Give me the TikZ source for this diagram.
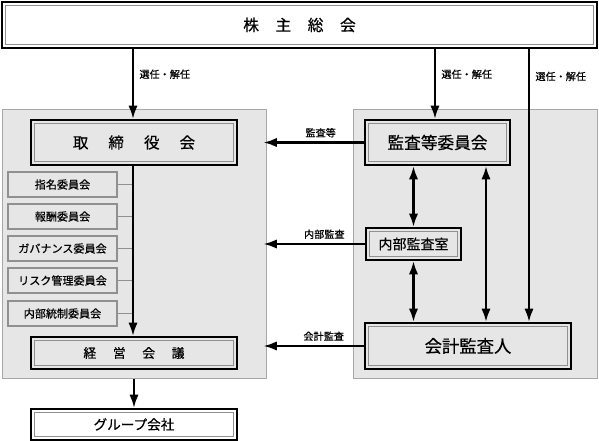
\documentclass[tikz,border=0pt]{standalone}
\usepackage{fontspec}
\setmainfont{Noto Sans CJK JP}[FakeBold=0.5]
\usetikzlibrary{arrows.meta,calc}
\definecolor{panel}{HTML}{E6E6E6}
\definecolor{panelline}{HTML}{A8A8A8}
\definecolor{innerline}{HTML}{909090}
\tikzset{
  px/.style={x=0.75pt,y=-0.75pt},
  panelbox/.style={draw=panelline,line width=0.75pt,fill=panel,inner sep=0pt},
  dbox/.style={draw=black,line width=1.7pt,fill=panel,inner sep=0pt,
    path picture={\draw[innerline,line width=0.75pt]
      ([shift={(2.4pt,2.4pt)}]path picture bounding box.south west) rectangle
      ([shift={(-2.4pt,-2.4pt)}]path picture bounding box.north east);}},
  wbox/.style={dbox,fill=white},
  cbox/.style={draw=innerline,line width=1pt,fill=panel,inner sep=0pt,
    minimum width=109*0.75pt,minimum height=25*0.75pt,font=\fontsize{8.3}{10}\selectfont},
  conn/.style={line width=1.65pt,-{Latex[length=10pt,width=7pt]}},
  dconn/.style={line width=1.65pt,{Latex[length=10pt,width=7pt]}-{Latex[length=10pt,width=7pt]}},
  thin/.style={draw=innerline,line width=0.75pt},
  lbl/.style={font=\fontsize{7.6}{9}\selectfont,inner sep=1pt},
}
\begin{document}
\begin{tikzpicture}[px]
\useasboundingbox (0,0) rectangle (599,441);
% panels
\node[panelbox,minimum width=264*0.75pt,minimum height=268*0.75pt] (lbox) at (134,244) {};
\node[panelbox,minimum width=244*0.75pt,minimum height=268*0.75pt] (rbox) at (475,244) {};
% top
\node[wbox,minimum width=595*0.75pt,minimum height=46*0.75pt,font=\fontsize{11.8}{13}\selectfont] (top) at (299.5,25) {株\hspace{1.05em}主\hspace{1.05em}総\hspace{1.05em}会};
% left
\node[dbox,minimum width=206*0.75pt,minimum height=45*0.75pt,font=\fontsize{11.6}{13}\selectfont] (tori) at (134,142.5) {取\hspace{1.3em}締\hspace{1.3em}役\hspace{1.3em}会};
\node[dbox,minimum width=206*0.75pt,minimum height=32*0.75pt,font=\fontsize{9.6}{11}\selectfont] (keiei) at (134,353) {経\hspace{1.3em}営\hspace{1.3em}会\hspace{1.3em}議};
\node[wbox,minimum width=206*0.75pt,minimum height=31*0.75pt,font=\fontsize{10.2}{12}\selectfont] (group) at (134,424.5) {グループ会社};
\node[cbox] (c1) at (62.5,184.5) {指名委員会};
\node[cbox] (c2) at (62.5,216.5) {報酬委員会};
\node[cbox] (c3) at (62.5,248.5) {ガバナンス委員会};
\node[cbox] (c4) at (62.5,280.5) {リスク管理委員会};
\node[cbox] (c5) at (62.5,313.5) {内部統制委員会};
% right
\node[dbox,minimum width=145*0.75pt,minimum height=45*0.75pt,font=\fontsize{12.5}{14}\selectfont] (kansa) at (437.5,142.5) {監査等委員会};
\node[dbox,minimum width=95*0.75pt,minimum height=32*0.75pt,font=\fontsize{10.5}{12}\selectfont] (naibu) at (413.5,244) {内部監査室};
\node[dbox,minimum width=206*0.75pt,minimum height=46*0.75pt,font=\fontsize{13}{15}\selectfont] (kaikei) at (468,346) {会計監査人};
% committee connectors
\foreach \c in {c1,c2,c3,c4,c5} \draw[thin] (\c.east) -- (\c.east -| 133,0);
% vertical main
\draw[conn] ([xshift=-0.75pt]tori.south) -- ([xshift=-0.75pt]keiei.north);
\draw[conn] (group.north |- lbox.south) -- (group.north);
% from top
\draw[conn] ([xshift=-0.75pt]tori.north |- top.south) -- node[lbl,right=3pt,pos=0.36]{選任・解任} ([xshift=-0.75pt]tori.north);
\draw[conn] ([xshift=-1.9pt]kansa.north |- top.south) -- node[lbl,right=3pt,pos=0.36]{選任・解任} ([xshift=-1.9pt]kansa.north);
\draw[conn] ([xshift=45.75pt]kaikei.north |- top.south) -- node[lbl,right=3pt,pos=0.1]{選任・解任} ([xshift=45.75pt]kaikei.north);
% horizontal
\draw[conn] (kansa.west) -- node[lbl,above=2pt,pos=0.43]{監査等} ($(kansa.west -| lbox.east)+(-3,0)$);
\draw[conn] (naibu.west) -- node[lbl,above=2pt,pos=0.4]{内部監査} ($(naibu.west -| lbox.east)+(-3,0)$);
\draw[conn] (kaikei.west) -- node[lbl,above=2pt,pos=0.4]{会計監査} ($(kaikei.west -| lbox.east)+(-3,0)$);
% double arrows
\draw[dconn] (naibu.north |- kansa.south) -- (naibu.north);
\draw[dconn] (naibu.south) -- (naibu.south |- kaikei.north);
\draw[dconn] ([xshift=13.5pt]kaikei.north |- kansa.south) -- ([xshift=13.5pt]kaikei.north);
\end{tikzpicture}
\end{document}
